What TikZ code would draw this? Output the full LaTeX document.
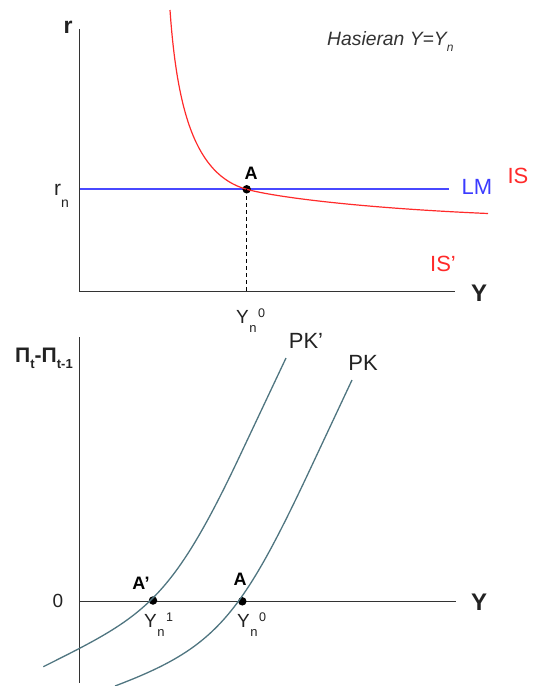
\documentclass[tikz,border=0pt]{standalone}
\usepackage{fontspec}
\setmainfont{Liberation Sans}
\definecolor{axisgray}{HTML}{333333}
\definecolor{txtgray}{HTML}{222222}
\definecolor{isred}{HTML}{FF2A2A}
\definecolor{lmblue}{HTML}{3B3BFF}
\definecolor{lmline}{HTML}{4848FF}
\definecolor{pkteal}{HTML}{4F7580}
\newcommand\Ynk[1]{Y\kern0.5pt\raisebox{-9pt}{\fontsize{13}{13}\selectfont n}\kern1.5pt\raisebox{6pt}{\fontsize{12.5}{13}\selectfont #1}}
\begin{document}
\begin{tikzpicture}[x=1pt,y=-1pt,
  axisline/.style={draw=axisgray,line width=1.4pt},
  iscurve/.style={draw=isred,line width=1.2pt},
  lmstroke/.style={draw=lmline,line width=1.8pt},
  pkcurve/.style={draw=pkteal,line width=1.3pt},
  guide/.style={draw=black,line width=1.2pt,dash pattern=on 4pt off 3pt},
  lbl/.style={inner sep=0pt,font=\fontsize{22}{25}\selectfont,text=txtgray},
  bigbold/.style={inner sep=0pt,font=\fontsize{24}{28}\selectfont\bfseries,text=txtgray},
  ptlbl/.style={inner sep=0pt,font=\fontsize{18}{20}\selectfont\bfseries,text=black},
  sublbl/.style={inner sep=0pt,font=\fontsize{19}{22}\selectfont,text=txtgray},
  dotnode/.style={circle,fill=black,inner sep=0pt,minimum size=8.5pt}]
\useasboundingbox (0,0) rectangle (533,686);

% ---------- top panel ----------
\coordinate (T1) at (79.3,29);
\coordinate (O1) at (79.3,291.7);
\coordinate (X1) at (455,291.7);
\draw[axisline] (T1) -- (O1) -- (X1);

\coordinate (L0) at (80,189.3);
\coordinate (L1) at (449,189.3);
\draw[lmstroke] (L0) -- (L1);

\node[dotnode] (A1) at (246.7,189.3) {};
\coordinate (IStop) at (170,10);
\coordinate (ISend) at (488,213.5);
\draw[iscurve] (IStop) .. controls (177,110) and (195,175) .. (A1.center)
  .. controls (275,197.1) and (360,208) .. (ISend);
\draw[guide] (A1.center) -- (A1.center |- O1);

\node[bigbold,font=\fontsize{23}{26}\selectfont\bfseries] (rlab) at (68,27) {r};
\node[lbl,font=\fontsize{21}{24}\selectfont,anchor=base west] (rn) at (54,195) {r\raisebox{-12pt}{\fontsize{14}{14}\selectfont n}};
\node[ptlbl] (Alab1) at (251,173) {A};
\node[lbl,text=lmblue] (LMlab) at (477,187) {LM};
\node[lbl,text=isred] (ISlab) at (518,176) {IS};
\node[lbl,text=isred] (ISplab) at (443,264) {IS'};
\node[bigbold] (Y1lab) at (479,293) {Y};
\node[sublbl,anchor=base west] (Yn0top) at (236,323) {\Ynk{0}};
\node[inner sep=0pt,anchor=base west,text=axisgray,font=\fontsize{19.3}{22}\selectfont\itshape] (hasi) at (327,45.5)
  {Hasieran Y=Y\raisebox{-6pt}{\fontsize{12}{12}\selectfont n}};

% ---------- bottom panel ----------
\coordinate (T2) at (79.3,337);
\coordinate (B2) at (79.3,683);
\coordinate (O2) at (79.3,601.3);
\coordinate (X2) at (456,601.3);
\draw[axisline] (T2) -- (B2);
\draw[axisline] (O2) -- (X2);

\node[dotnode] (Ap) at (153,600.5) {};
\node[dotnode] (A2) at (242.3,601.3) {};

\coordinate (PKps) at (43.3,666.7);
\coordinate (PKpm) at (240,455.5);
\coordinate (PKpe) at (286,358);
\draw[pkcurve] (PKps) .. controls (143.3,616.7) and (170,603.9) .. (PKpm) -- (PKpe);

\coordinate (PKs) at (115,686);
\coordinate (PKm) at (310,469.5);
\coordinate (PKe) at (352,380);
\draw[pkcurve] (PKs) .. controls (215,648) and (240,618.6) .. (PKm) -- (PKe);

\node[inner sep=0pt,anchor=base west,text=txtgray,font=\fontsize{21}{24}\selectfont\bfseries] (pilab) at (15,362)
  {Π\raisebox{-6pt}{\fontsize{13}{13}\selectfont t}-Π\raisebox{-6pt}{\fontsize{13}{13}\selectfont t-1}};
\node[lbl,font=\fontsize{19}{22}\selectfont] (zero) at (58,601) {0};
\node[bigbold] (Y2lab) at (479,602) {Y};
\node[lbl] (PKplab) at (306,341) {PK'};
\node[lbl] (PKlab) at (363,363) {PK};
\node[ptlbl] (Aplab) at (141,583) {A'};
\node[ptlbl] (A2lab) at (240,579) {A};
\node[sublbl,anchor=base west] (Yn1) at (144,627) {\Ynk{1}};
\node[sublbl,anchor=base west] (Yn0b) at (237,627) {\Ynk{0}};
\end{tikzpicture}
\end{document}
